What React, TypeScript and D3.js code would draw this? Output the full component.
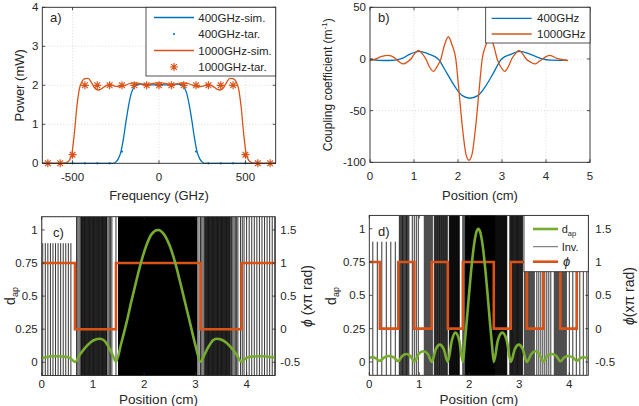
import React, { useEffect, useRef } from 'react';
import * as d3 from 'd3';

const FONT = '"Liberation Sans", Arial, Helvetica, sans-serif';
const INK = '#262626';
const BLUE = '#0072BD';
const ORANGE = '#D95319';
const GREEN = '#77AC30';
const GRID = '#d4d4d4';
const TL = 3;

// a) output power vs frequency
const simFreq400 = [-675, -280, -265, -250, -235, -220, -205, -190, -175, -160, -145, -130, -110, -80, -40, 0, 40, 80, 110, 130, 145, 160, 175, 190, 205, 220, 235, 250, 265, 280, 675];
const simPower400 = [0, 0, 0, 0.03, 0.12, 0.3, 0.65, 1.1, 1.5, 1.8, 1.95, 2.02, 2.03, 2.02, 2.01, 2.02, 2.01, 2.02, 2.03, 2.02, 1.95, 1.8, 1.5, 1.1, 0.65, 0.3, 0.12, 0.03, 0, 0, 0];
const simFreq1000 = [-675, -560, -540, -520, -505, -490, -475, -460, -445, -428, -410, -392, -375, -355, -335, -310, -285, -255, -225, -195, -165, -135, -105, -75, -45, -15, 15, 45, 75, 105, 135, 165, 195, 225, 255, 285, 310, 335, 355, 375, 392, 410, 428, 445, 460, 475, 490, 505, 520, 540, 560, 675];
const simPower1000 = [0, 0, 0.01, 0.07, 0.22, 0.75, 1.45, 1.92, 2.1, 2.17, 2.18, 2.08, 1.95, 1.88, 1.9, 1.98, 2.02, 1.98, 1.96, 2.0, 2.05, 2.06, 2.04, 2.02, 2.04, 2.06, 2.06, 2.04, 2.02, 2.04, 2.06, 2.05, 2.0, 1.96, 1.98, 2.02, 1.98, 1.9, 1.88, 1.95, 2.08, 2.18, 2.17, 2.1, 1.92, 1.45, 0.75, 0.22, 0.07, 0.01, 0, 0];
const tarFreq = [-642.9, -571.4, -500, -428.6, -357.1, -285.7, -214.3, -142.9, -71.4, 0, 71.4, 142.9, 214.3, 285.7, 357.1, 428.6, 500, 571.4, 642.9];
const tarPower400 = [0, 0, 0, 0, 0, 0, 0.3, 2, 2, 2, 2, 2, 0.3, 0, 0, 0, 0, 0, 0];
const tarPower1000 = [0, 0, 0.22, 2, 2, 2, 2, 2, 2, 2, 2, 2, 2, 2, 2, 2, 0.22, 0, 0];
const legendA = ['400GHz-sim.', '400GHz-tar.', '1000GHz-sim.', '1000GHz-tar.'];

// b) coupling coefficient profiles
const posB400 = [0, 0.2, 0.45, 0.7, 0.9, 1.12, 1.35, 1.55, 1.75, 1.95, 2.1, 2.27, 2.45, 2.6, 2.8, 2.99, 3.2, 3.41, 3.65, 3.9, 4.1, 4.3, 4.47];
const kappa400 = [-0.5, -1.3, -1.5, 0, 4.5, 7.3, 4.5, 0, -14, -28, -35.5, -38, -35.5, -28, -14, 0, 4.5, 7.3, 4.5, 0.3, -1.2, -1.3, -0.8];
const posB1000 = [0, 0.1, 0.25, 0.42, 0.58, 0.67, 0.76, 0.86, 0.93, 1.01, 1.1, 1.19, 1.27, 1.35, 1.44, 1.53, 1.61, 1.69, 1.78, 1.87, 1.95, 2.02, 2.1, 2.18, 2.25, 2.32, 2.4, 2.48, 2.55, 2.63, 2.72, 2.81, 2.89, 2.97, 3.06, 3.15, 3.22, 3.3, 3.38, 3.47, 3.55, 3.65, 3.75, 3.84, 3.92, 4.0, 4.09, 4.25, 4.4, 4.5];
const kappa1000 = [-1.5, -0.5, 2.2, 3.5, 0.5, -3, -4.8, -2.5, 0, 5, 8.3, 5, 0, -7.5, -12, -7, 0, 13, 21.5, 13, 0, -30, -66, -92, -98, -92, -66, -30, 0, 13, 21.5, 13, 0, -7.5, -12, -7, 0, 5, 8.3, 5, 0, -3, -4.8, -2.5, 0, 2.2, 3.5, 0.5, -1, -1.5];
const legendB = ['400GHz', '1000GHz'];

// c) apodization, inversions and phase (400 GHz)
const posC = [0, 0.1, 0.2, 0.3, 0.4, 0.5, 0.56, 0.65, 0.75, 0.85, 0.95, 1.05, 1.13, 1.22, 1.3, 1.38, 1.45, 1.55, 1.65, 1.75, 1.85, 1.95, 2.05, 2.15, 2.27, 2.4, 2.5, 2.6, 2.7, 2.8, 2.9, 3.0, 3.1, 3.18, 3.26, 3.34, 3.42, 3.5, 3.6, 3.7, 3.8, 3.9, 3.98, 4.05, 4.15, 4.25, 4.35, 4.45, 4.56];
const dapC = [0.03, 0.04, 0.045, 0.045, 0.043, 0.04, 0.03, 0.003, 0.06, 0.11, 0.15, 0.172, 0.178, 0.165, 0.12, 0.06, 0.005, 0.14, 0.29, 0.46, 0.62, 0.77, 0.89, 0.97, 1.0, 0.96, 0.88, 0.76, 0.61, 0.45, 0.29, 0.13, 0.005, 0.06, 0.12, 0.165, 0.178, 0.172, 0.15, 0.11, 0.06, 0.003, 0.03, 0.04, 0.043, 0.045, 0.045, 0.04, 0.035];
const phaseEdgesC = [0, 0.65, 1.45, 3.1, 3.9, 4.56];
const phaseC = [1, 0, 1, 0, 1, 1];
const invStartC = [0.02, 0.68, 0.78, 1.27, 1.45, 1.5, 3.07, 3.1, 3.19, 3.68, 3.88, 4.0];
const invEndC = [0.57, 0.78, 1.27, 1.37, 1.45, 3.03, 3.07, 3.19, 3.68, 3.83, 3.95, 4.55];
const invPitchC = [0.05, 0.025, 0.011, 0.025, 1, 0.003, 1, 0.025, 0.011, 0.025, 0.035, 0.05];

// d) apodization, inversions and phase (1000 GHz)
const posD = [0, 0.05, 0.13, 0.21, 0.3, 0.4, 0.49, 0.58, 0.66, 0.74, 0.82, 0.9, 0.99, 1.08, 1.17, 1.25, 1.33, 1.41, 1.49, 1.57, 1.65, 1.72, 1.8, 1.87, 1.91, 1.95, 2.0, 2.05, 2.1, 2.14, 2.18, 2.22, 2.26, 2.31, 2.36, 2.41, 2.45, 2.49, 2.57, 2.66, 2.75, 2.83, 2.91, 2.99, 3.07, 3.15, 3.24, 3.32, 3.4, 3.48, 3.56, 3.65, 3.74, 3.82, 3.9, 3.98, 4.07, 4.15, 4.22, 4.28, 4.34, 4.38];
const dapD = [0.03, 0.035, 0.028, 0.008, 0.035, 0.045, 0.035, 0.005, 0.045, 0.06, 0.045, 0.003, 0.06, 0.08, 0.06, 0, 0.095, 0.13, 0.095, 0, 0.16, 0.22, 0.16, 0, 0.144, 0.311, 0.531, 0.735, 0.894, 0.973, 1.0, 0.973, 0.894, 0.735, 0.531, 0.311, 0.144, 0, 0.16, 0.22, 0.16, 0, 0.095, 0.13, 0.095, 0, 0.06, 0.08, 0.06, 0.003, 0.045, 0.06, 0.045, 0.005, 0.035, 0.045, 0.035, 0.008, 0.028, 0.035, 0.032, 0.03];
const phaseEdgesD = [0, 0.21, 0.58, 0.9, 1.25, 1.57, 1.87, 2.49, 2.83, 3.15, 3.48, 3.82, 4.15, 4.38];
const phaseD = [1, 0, 1, 0, 1, 0, 1, 0, 1, 0, 1, 0, 1, 1];
const invStartD = [0.07, 0.6, 0.86, 1.1, 1.3, 1.6, 1.87, 1.93, 2.51, 2.81, 3.1, 3.35, 3.7, 4.0];
const invEndD = [0.52, 0.8, 1.0, 1.27, 1.57, 1.8, 1.93, 2.51, 2.75, 3.07, 3.3, 3.65, 3.95, 4.35];
const invPitchD = [0.09, 0.016, 0.04, 0.02, 0.013, 0.008, 0.02, 0.003, 0.008, 0.011, 0.02, 0.04, 0.02, 0.07];

const posTicks = [0, 1, 2, 3, 4];
const dapTicks = [0, 0.25, 0.5, 0.75, 1];
const phiTicks = [-0.5, 0, 0.5, 1, 1.5];

type G = d3.Selection<SVGGElement, unknown, null, undefined>;
type Lin = d3.ScaleLinear<number, number>;

const zip = (xs: number[], ys: number[]) => xs.map((x, i) => [x, ys[i]] as [number, number]);

const star = (s: number) => {
  const d = s * 0.72;
  return `M${-s},0H${s}M0,${-s}V${s}M${-d},${-d}L${d},${d}M${-d},${d}L${d},${-d}`;
};

function label(g: G, x: number, y: number, s: string, size: number, anchor = 'start') {
  return g.append('text')
    .attr('x', x).attr('y', y)
    .attr('font-size', size)
    .attr('text-anchor', anchor)
    .attr('fill', INK)
    .text(s);
}

function segment(g: G, x1: number, y1: number, x2: number, y2: number, color = INK, w = 0.8) {
  return g.append('line')
    .attr('x1', x1).attr('y1', y1).attr('x2', x2).attr('y2', y2)
    .attr('stroke', color).attr('stroke-width', w);
}

// box with inward ticks on all four sides
function frame(g: G, x: Lin, y: Lin, xTicks: number[], yTicks: number[], fs: number, xDy: number,
  yR?: Lin, yRTicks?: number[], rDx = 5) {
  const [xl, xr] = x.range();
  const [yb, yt] = y.range();
  xTicks.forEach(v => {
    segment(g, x(v), yb, x(v), yb - TL);
    segment(g, x(v), yt, x(v), yt + TL);
    label(g, x(v), yb + xDy, String(v), fs, 'middle');
  });
  yTicks.forEach(v => {
    segment(g, xl, y(v), xl + TL, y(v));
    if (!yR) segment(g, xr, y(v), xr - TL, y(v));
    label(g, xl - 4, y(v) + fs * 0.36, String(v), fs, 'end');
  });
  if (yR && yRTicks) {
    yRTicks.forEach(v => {
      segment(g, xr, yR(v), xr - TL, yR(v));
      label(g, xr + rDx, yR(v) + fs * 0.36, String(v), fs, 'start');
    });
  }
  g.append('rect')
    .attr('x', xl).attr('y', yt)
    .attr('width', xr - xl).attr('height', yb - yt)
    .attr('fill', 'none').attr('stroke', INK).attr('stroke-width', 0.9);
}

function grid(g: G, x: Lin, y: Lin, xs: number[], ys: number[]) {
  const [xl, xr] = x.range();
  const [yb, yt] = y.range();
  xs.forEach(v => segment(g, x(v), yb, x(v), yt, GRID, 0.8).attr('stroke-dasharray', '1,2'));
  ys.forEach(v => segment(g, xl, y(v), xr, y(v), GRID, 0.8).attr('stroke-dasharray', '1,2'));
}

function inversionPanel(svg: d3.Selection<SVGSVGElement, unknown, null, undefined>, id: string,
  x: Lin, y: Lin, yR: Lin, starts: number[], ends: number[], pitches: number[],
  pos: number[], dap: number[], edges: number[], phase: number[]) {
  const [xl, xr] = x.range();
  const [yb, yt] = y.range();
  svg.append('clipPath').attr('id', id)
    .append('rect').attr('x', xl).attr('y', yt).attr('width', xr - xl).attr('height', yb - yt);
  const g = svg.append('g').attr('clip-path', `url(#${id})`);

  const lines = starts.flatMap((s, i) => d3.range(s, ends[i] + 1e-9, pitches[i]));
  g.selectAll('line.inv').data(lines).enter().append('line')
    .attr('class', 'inv')
    .attr('x1', d => x(d)).attr('x2', d => x(d))
    .attr('y1', yb).attr('y2', yt)
    .attr('stroke', '#000').attr('stroke-width', 0.8);

  g.append('path')
    .attr('d', d3.line<[number, number]>().x(d => x(d[0])).y(d => yR(d[1])).curve(d3.curveStepAfter)(zip(edges, phase)) ?? '')
    .attr('fill', 'none').attr('stroke', ORANGE).attr('stroke-width', 2.6);

  g.append('path')
    .attr('d', d3.line<[number, number]>().x(d => x(d[0])).y(d => y(d[1])).curve(d3.curveMonotoneX)(zip(pos, dap)) ?? '')
    .attr('fill', 'none').attr('stroke', GREEN).attr('stroke-width', 2.6);
}

export default function App() {
  const ref = useRef<SVGSVGElement>(null);

  useEffect(() => {
    const svg = d3.select(ref.current as SVGSVGElement);
    svg.selectAll('*').remove();
    svg.attr('font-family', FONT);

    // ---------- a) ----------
    const ax = d3.scaleLinear().domain([-675, 675]).range([42.3, 275.7]);
    const ay = d3.scaleLinear().domain([0, 4]).range([163.3, 7.3]);
    const ga = svg.append('g') as unknown as G;
    grid(ga, ax, ay, [-500, 0, 500], [1, 2, 3]);
    const lineA = d3.line<[number, number]>().x(d => ax(d[0])).y(d => ay(d[1])).curve(d3.curveMonotoneX);
    ga.append('path').attr('d', lineA(zip(simFreq400, simPower400)) ?? '')
      .attr('fill', 'none').attr('stroke', BLUE).attr('stroke-width', 1.3);
    ga.selectAll('circle.tar').data(zip(tarFreq, tarPower400)).enter().append('circle')
      .attr('class', 'tar').attr('cx', d => ax(d[0])).attr('cy', d => ay(d[1])).attr('r', 1.1).attr('fill', BLUE);
    ga.append('path').attr('d', lineA(zip(simFreq1000, simPower1000)) ?? '')
      .attr('fill', 'none').attr('stroke', ORANGE).attr('stroke-width', 1.3);
    ga.selectAll('path.star').data(zip(tarFreq, tarPower1000)).enter().append('path')
      .attr('class', 'star').attr('d', star(4))
      .attr('transform', d => `translate(${ax(d[0])},${ay(d[1])})`)
      .attr('fill', 'none').attr('stroke', ORANGE).attr('stroke-width', 1.2);
    frame(ga, ax, ay, [-500, 0, 500], [0, 1, 2, 3, 4], 11.5, 17.5);
    label(ga, 159, 199.5, 'Frequency (GHz)', 13, 'middle');
    label(ga, 0, 0, 'Power (mW)', 13, 'middle').attr('transform', 'translate(24,85.3) rotate(-90)');
    label(ga, 50, 22, 'a)', 13);

    ga.append('rect').attr('x', 146).attr('y', 7.3).attr('width', 129.7).attr('height', 68.7)
      .attr('fill', '#fff').attr('stroke', INK).attr('stroke-width', 0.8);
    const rowsA = [17.5, 34, 50.5, 67];
    legendA.forEach((name, i) => {
      const yy = rowsA[i];
      const color = i < 2 ? BLUE : ORANGE;
      if (i === 0 || i === 2) segment(ga, 154, yy, 194, yy, color, 1.3);
      if (i === 1) ga.append('circle').attr('cx', 174).attr('cy', yy).attr('r', 1.1).attr('fill', BLUE);
      if (i === 3) ga.append('path').attr('d', star(4)).attr('transform', `translate(174,${yy})`)
        .attr('fill', 'none').attr('stroke', ORANGE).attr('stroke-width', 1.2);
      label(ga, 198.3, yy + 4, name, 11.5);
    });

    // ---------- b) ----------
    const bx = d3.scaleLinear().domain([0, 5]).range([370, 590]);
    const by = d3.scaleLinear().domain([-100, 50]).range([162.3, 7.3]);
    const gb = svg.append('g') as unknown as G;
    grid(gb, bx, by, [1, 2, 3, 4], [0, -50]);
    const lineB = d3.line<[number, number]>().x(d => bx(d[0])).y(d => by(d[1])).curve(d3.curveMonotoneX);
    gb.append('path').attr('d', lineB(zip(posB400, kappa400)) ?? '')
      .attr('fill', 'none').attr('stroke', BLUE).attr('stroke-width', 1.3);
    gb.append('path').attr('d', lineB(zip(posB1000, kappa1000)) ?? '')
      .attr('fill', 'none').attr('stroke', ORANGE).attr('stroke-width', 1.3);
    frame(gb, bx, by, [0, 1, 2, 3, 4, 5], [-100, -50, 0, 50], 11.5, 17.5);
    label(gb, 480, 199.5, 'Position (cm)', 13, 'middle');
    const yl = label(gb, 0, 0, 'Coupling coefficient (m', 12, 'middle').attr('transform', 'translate(331.5,84.8) rotate(-90)');
    yl.append('tspan').attr('dy', -4.5).attr('font-size', 8).text('-1');
    yl.append('tspan').attr('dy', 4.5).text(')');
    label(gb, 378, 22, 'b)', 13);

    gb.append('rect').attr('x', 485.7).attr('y', 7.3).attr('width', 104.3).attr('height', 35.7)
      .attr('fill', '#fff').attr('stroke', INK).attr('stroke-width', 0.8);
    [18.3, 34].forEach((yy, i) => {
      segment(gb, 491.7, yy, 531.7, yy, i === 0 ? BLUE : ORANGE, 1.3);
      label(gb, 537, yy + 4, legendB[i], 11.5);
    });

    // ---------- c) ----------
    const cx = d3.scaleLinear().domain([0, 4.56]).range([41.7, 275.3]);
    const cy = d3.scaleLinear().domain([-0.1, 1.1]).range([375.5, 216.7]);
    const cyR = d3.scaleLinear().domain([-0.7, 1.7]).range([375.5, 216.7]);
    inversionPanel(svg, 'clip-c', cx, cy, cyR, invStartC, invEndC, invPitchC, posC, dapC, phaseEdgesC, phaseC);
    const gc = svg.append('g') as unknown as G;
    gc.append('rect').attr('x', 42.2).attr('y', 217.2).attr('width', 30).attr('height', 26).attr('fill', '#fff');
    label(gc, 53, 236.5, 'c)', 13);
    frame(gc, cx, cy, posTicks, dapTicks, 11.5, 12.8, cyR, phiTicks, 5);
    label(gc, 158.5, 403.5, 'Position (cm)', 13.5, 'middle');
    const dl = label(gc, 0, 0, 'd', 14, 'middle').attr('transform', 'translate(14.5,296) rotate(-90)');
    dl.append('tspan').attr('dy', 3).attr('font-size', 9).text('ap');
    const pl = gc.append('text').attr('font-size', 14).attr('fill', INK).attr('text-anchor', 'middle')
      .attr('transform', 'translate(312,296) rotate(-90)');
    pl.append('tspan').attr('font-style', 'italic').text('ϕ');
    pl.append('tspan').text(' (xπ rad)');

    // ---------- d) ----------
    const dx = d3.scaleLinear().domain([0, 4.38]).range([369.3, 588.3]);
    const dy = d3.scaleLinear().domain([-0.1, 1.1]).range([375.3, 215.4]);
    const dyR = d3.scaleLinear().domain([-0.7, 1.7]).range([375.3, 215.4]);
    inversionPanel(svg, 'clip-d', dx, dy, dyR, invStartD, invEndD, invPitchD, posD, dapD, phaseEdgesD, phaseD);
    const gd = svg.append('g') as unknown as G;
    gd.append('rect').attr('x', 369.8).attr('y', 216).attr('width', 28.5).attr('height', 25.7).attr('fill', '#fff');
    label(gd, 378, 235.5, 'd)', 13);
    frame(gd, dx, dy, posTicks, dapTicks, 11.5, 12.8, dyR, phiTicks, 7);
    label(gd, 478.8, 403.5, 'Position (cm)', 13.5, 'middle');
    const dl2 = label(gd, 0, 0, 'd', 14, 'middle').attr('transform', 'translate(336,296) rotate(-90)');
    dl2.append('tspan').attr('dy', 3).attr('font-size', 9).text('ap');
    const pl2 = gd.append('text').attr('font-size', 14).attr('fill', INK).attr('text-anchor', 'middle')
      .attr('transform', 'translate(634,296) rotate(-90)');
    pl2.append('tspan').attr('font-style', 'italic').text('ϕ');
    pl2.append('tspan').text('(xπ rad)');

    // legend for d)
    gd.append('rect').attr('x', 524).attr('y', 215.4).attr('width', 64.3).attr('height', 56.3)
      .attr('fill', '#fff').attr('stroke', INK).attr('stroke-width', 0.8);
    segment(gd, 533, 229, 558, 229, GREEN, 2.6);
    const lg = label(gd, 561.7, 233, 'd', 11);
    lg.append('tspan').attr('dy', 2.5).attr('font-size', 7.5).text('ap');
    segment(gd, 533, 246.7, 558, 246.7, '#000', 0.6);
    label(gd, 561.7, 250.7, 'Inv.', 11);
    segment(gd, 533, 261.7, 558, 261.7, ORANGE, 2.6);
    label(gd, 563, 266, 'ϕ', 13).attr('font-style', 'italic');
  }, []);

  return (
    <svg
      ref={ref}
      width={639}
      height={406}
      style={{ position: 'absolute', left: 0, top: 0, background: '#fff' }}
    />
  );
}
